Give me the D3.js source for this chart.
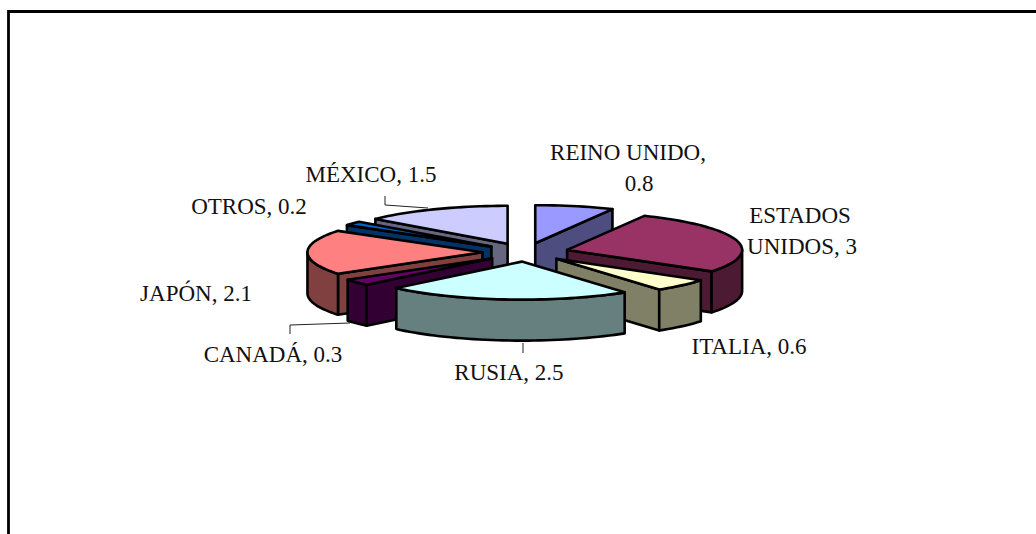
<!DOCTYPE html>
<html><head><meta charset="utf-8">
<script src="https://cdn.jsdelivr.net/npm/d3@7/dist/d3.min.js"></script>
<style>html,body{margin:0;padding:0;background:#fff}svg{display:block}text{font-family:"Liberation Serif",serif;font-size:23px;fill:#111}</style>
</head><body><svg width="1036" height="534"></svg>
<script>
const categories = ["REINO UNIDO","ESTADOS UNIDOS","ITALIA","RUSIA","CANADÁ","JAPÓN","OTROS","MÉXICO"];
const values = [0.8,3,0.6,2.5,0.3,2.1,0.2,1.5];
const topColors = ["#9999FF","#993366","#FFFFCC","#CCFFFF","#660066","#FF8080","#0066CC","#CCCCFF"];
const wallColors = ["#4D4D80","#4D1A33","#808066","#668080","#330033","#804040","#003366","#666680"];
const labelLines = [["REINO UNIDO,","0.8"],["ESTADOS","UNIDOS, 3"],["ITALIA, 0.6"],["RUSIA, 2.5"],["CANADÁ, 0.3"],["JAPÓN, 2.1"],["OTROS, 0.2"],["MÉXICO, 1.5"]];
const labelX = [[628,639],[800,802],[749],[509],[273],[196],[249],[371]];
const labelY = [160,223,354,380,362,301,214,182];
const paintOrder = [0,7,6,1,5,2,4,3];

const svg = d3.select("svg");
// frame
svg.append("path").attr("d","M8.5,534V11.5H1036").attr("fill","none").attr("stroke","#000").attr("stroke-width",2.8);

const cx=525.5, cy=252.3, rx=175, ry=38, depth=41, explode=0.246;
const X=d3.scaleLinear().domain([-1,1]).range([cx-rx,cx+rx]);
const Y=d3.scaleLinear().domain([-1,1]).range([cy-ry,cy+ry]);
const arcs=d3.pie().sort(null).value(d=>d)(values);
const step=Math.PI/90;
function angles(a,b){const r=[a];for(let t=a+step;t<b;t+=step)r.push(t);r.push(b);return r;}
function pt(apex,t,z=0){return [apex[0]+X(Math.sin(t))-cx, apex[1]+Y(-Math.cos(t))-cy+z];}
const line=d3.line().curve(d3.curveLinear);
const slices=arcs.map((d,i)=>{const m=(d.startAngle+d.endAngle)/2;
  return {i,a:d.startAngle,b:d.endAngle,apex:[X(explode*Math.sin(m)),Y(-explode*Math.cos(m))]};});
const g=svg.append("g").attr("stroke","#000").attr("stroke-width",2.6).attr("stroke-linejoin","round");
paintOrder.forEach(k=>{const s=slices[k],c=wallColors[k];
  const face=t=>{const p=pt(s.apex,t);
    g.append("path").attr("d",line([s.apex,p,[p[0],p[1]+depth],[s.apex[0],s.apex[1]+depth]])+"Z").attr("fill",c);};
  if(Math.sin(s.a)<-1e-6)face(s.a);
  if(Math.sin(s.b)>1e-6)face(s.b);
  const lo=Math.max(s.a,Math.PI/2),hi=Math.min(s.b,3*Math.PI/2);
  if(lo<hi){const A=angles(lo,hi);
    const poly=A.map(t=>pt(s.apex,t)).concat(A.slice().reverse().map(t=>pt(s.apex,t,depth)));
    g.append("path").attr("d",line(poly)+"Z").attr("fill",c);}
  g.append("path").attr("d",line([s.apex,...angles(s.a,s.b).map(t=>pt(s.apex,t))])+"Z").attr("fill",topColors[k]);
});
// leader lines
const leaderData=[[[385,196],[385,205],[428,208]],[[290,334],[290,325],[350,323]],[[523,343],[523,353]]];
const ll=d3.line();
svg.append("g").selectAll("path").data(leaderData).join("path").attr("d",ll).attr("fill","none").attr("stroke","#222").attr("stroke-width",1);
// labels
labelLines.forEach((ls,i)=>{
  const t=svg.append("text").attr("text-anchor","middle").attr("y",labelY[i]);
  ls.forEach((s,j)=>t.append("tspan").attr("x",labelX[i][j]).attr("dy",j?31:0).text(s));
});
</script></body></html>
